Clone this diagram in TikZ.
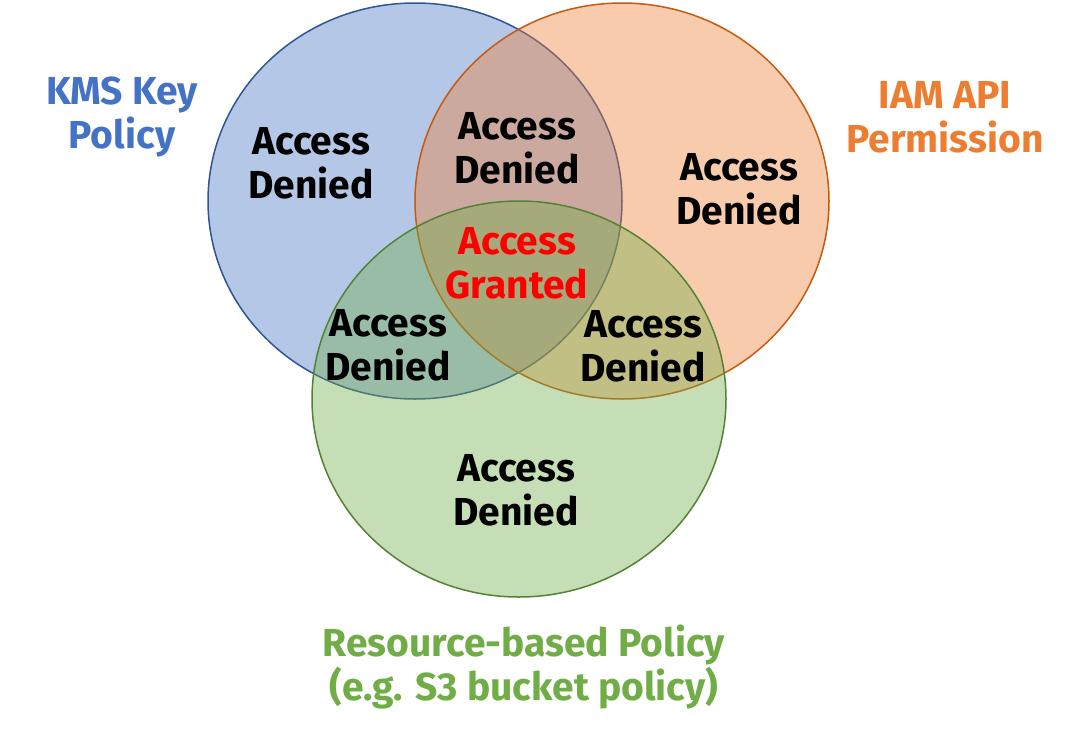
\documentclass[tikz,border=0pt]{standalone}
\usepackage{fontspec}
\setmainfont{Fira Sans}
\usepackage{tikz}
\usetikzlibrary{shapes.geometric}
\usetikzlibrary{positioning}
\definecolor{kmsblue}{HTML}{4472C4}
\definecolor{kmsline}{HTML}{2F5597}
\definecolor{iamorange}{HTML}{ED7D31}
\definecolor{iamline}{HTML}{C55A11}
\definecolor{resgreen}{HTML}{70AD47}
\definecolor{resline}{HTML}{548235}
\tikzstyle{policy}=[ellipse,inner sep=0mm,minimum width=414,minimum height=396,fill opacity=0.4,line width=1.5]
\tikzstyle{verdict}=[align=center,inner sep=0mm,font=\bfseries\fontsize{39}{44}\selectfont]
\tikzstyle{title}=[verdict]
\tikzset{every picture/.style={
    x=1pt,y=-1pt
  }
}

\begin{document}
\begin{tikzpicture}
          \useasboundingbox (0,0) rectangle (1066,737);
          \node[policy, fill=kmsblue, draw=kmsline] at (415,201) (kms) {};
          \node[policy, fill=iamorange, draw=iamline] at (622,201) (iam) {};
          \node[policy, fill=resgreen, draw=resline] at (519,399) (res) {};
          \node[title, text=kmsblue] at (122,117) (kmst) {KMS Key\\Policy};
          \node[title, text=iamorange] at (945,117) (iamt) {IAM API\\Permission};
          \node[title, text=resgreen] at (524,667) (rest) {Resource-based Policy\\(e.g. S3 bucket policy)};
          \node[verdict] at (311,163) (k) {Access\\Denied};
          \node[verdict] at (517,148) (ki) {Access\\Denied};
          \node[verdict] at (739,189) (i) {Access\\Denied};
          \node[verdict, text=red] at (517,263) (kir) {Access\\Granted};
          \node[verdict] at (388,345) (kr) {Access\\Denied};
          \node[verdict] at (643,346) (ir) {Access\\Denied};
          \node[verdict] at (516,490) (r) {Access\\Denied};
        \end{tikzpicture}
\end{document}
